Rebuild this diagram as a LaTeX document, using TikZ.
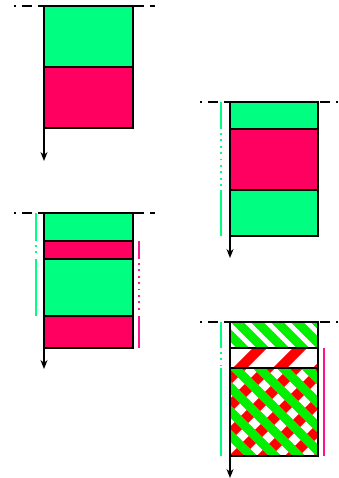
\documentclass[tikz,border=0pt]{standalone}
\usepackage{tikz}
\usetikzlibrary{arrows.meta}
\definecolor{blockgreen}{RGB}{0,255,128}
\definecolor{blockpink}{RGB}{255,0,96}
\definecolor{markpink}{RGB}{255,20,140}
\definecolor{hatchgreen}{RGB}{0,240,0}
\definecolor{hatchred}{RGB}{255,0,0}
\tikzset{
  greenblk/.style={draw=black, line width=1.8pt, fill=blockgreen},
  pinkblk/.style={draw=black, line width=1.8pt, fill=blockpink},
  frameblk/.style={draw=black, line width=1.8pt},
  zeroline/.style={line width=1.5pt, dash pattern=on 10pt off 6pt, dash phase=8pt},
  timeline/.style={line width=1.3pt, -{Stealth[length=9pt,width=7pt]}},
  greenmark/.style={blockgreen, line width=1.6pt},
  pinkmark/.style={markpink, line width=1.6pt},
  gapmark/.style={line width=1.6pt, dash pattern=on 1.8pt off 4.6pt},
  greenhatch/.style={hatchgreen, line width=9pt},
  redhatch/.style={hatchred, line width=10pt},
}
\begin{document}
\begin{tikzpicture}[x=1pt,y=-1pt]
  \useasboundingbox (0,0) rectangle (338,478);

  % first run
  \draw[zeroline] (14,6) -- (155,6);
  \filldraw[greenblk] (44,6) rectangle (133,67);
  \filldraw[pinkblk] (44,67) rectangle (133,128);
  \coordinate (t1) at (44,6);
  \coordinate (e1) at (44,161);
  \draw[timeline] (t1) -- (e1);

  % second run
  \draw[zeroline] (14,213) -- (155,213);
  \filldraw[greenblk] (44,213) rectangle (133,241);
  \filldraw[pinkblk] (44,241) rectangle (133,259);
  \filldraw[greenblk] (44,259) rectangle (133,316);
  \filldraw[pinkblk] (44,316) rectangle (133,348);
  \coordinate (t2) at (44,213);
  \coordinate (e2) at (44,369);
  \draw[timeline] (t2) -- (e2);
  \draw[greenmark] (36,213) -- (36,241);
  \draw[greenmark, gapmark] (36,245) -- (36,257);
  \draw[greenmark] (36,259) -- (36,316);
  \draw[pinkmark] (139,241) -- (139,259);
  \draw[pinkmark, gapmark] (139,263) -- (139,314);
  \draw[pinkmark] (139,316) -- (139,348);

  % third run
  \draw[zeroline] (200,102) -- (338,102);
  \filldraw[greenblk] (230,102) rectangle (318,129);
  \filldraw[pinkblk] (230,129) rectangle (318,190);
  \filldraw[greenblk] (230,190) rectangle (318,236);
  \coordinate (t3) at (230,102);
  \coordinate (e3) at (230,258);
  \draw[timeline] (t3) -- (e3);
  \draw[greenmark] (221,102) -- (221,129);
  \draw[greenmark, gapmark] (221,133) -- (221,188);
  \draw[greenmark] (221,190) -- (221,236);

  % fourth run
  \draw[zeroline] (200,322) -- (338,322);
  \begin{scope}
    \clip (230,322) rectangle (318,348);
    \foreach \c in {-125,-105,...,15}
      \draw[greenhatch] (\c+300,300) -- ++(140,140);
  \end{scope}
  \begin{scope}
    \clip (230,348) rectangle (318,368);
    \foreach \c in {488,528,...,728}
      \draw[redhatch] (\c-400,400) -- ++(120,-120);
  \end{scope}
  \begin{scope}
    \clip (230,368) rectangle (318,456);
    \foreach \c in {496,524,...,800}
      \draw[redhatch] (\c-480,480) -- ++(160,-160);
    \foreach \c in {-205,-181,...,15}
      \draw[greenhatch] (\c+340,340) -- ++(140,140);
  \end{scope}
  \draw[frameblk] (230,322) rectangle (318,348);
  \draw[frameblk] (230,348) rectangle (318,368);
  \draw[frameblk] (230,368) rectangle (318,456);
  \coordinate (t4) at (230,322);
  \coordinate (e4) at (230,478);
  \draw[timeline] (t4) -- (e4);
  \draw[greenmark] (221,322) -- (221,348);
  \draw[greenmark, gapmark] (221,352) -- (221,366);
  \draw[greenmark] (221,368) -- (221,456);
  \draw[pinkmark] (324,348) -- (324,456);
\end{tikzpicture}
\end{document}
